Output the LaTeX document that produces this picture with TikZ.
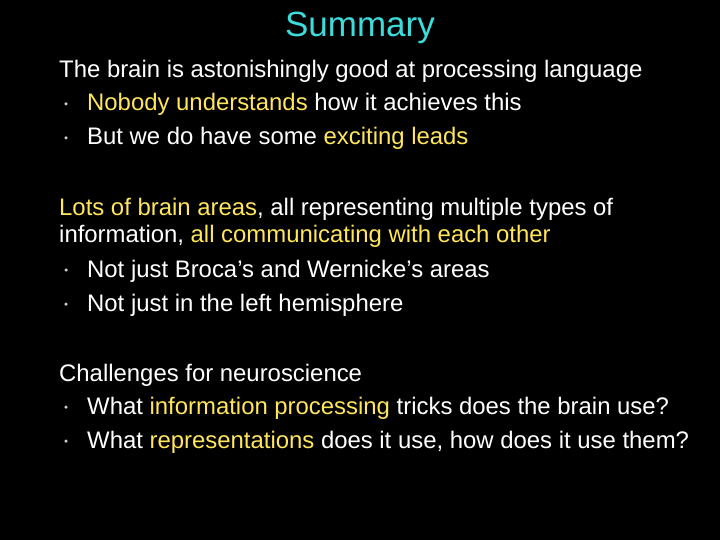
\documentclass[tikz,border=0pt]{standalone}
\usepackage{fontspec}
\setmainfont{Liberation Sans}
\usepackage{xcolor}
\definecolor{hilite}{RGB}{255,230,90}
\definecolor{titlecol}{RGB}{60,220,220}

\begin{document}
\begin{tikzpicture}[x=1pt, y=-1pt,
    txt/.style={anchor=base west, inner sep=0pt, text=white, font=\fontsize{23.9}{28}\selectfont},
    dot/.style={circle, fill=white!80!black, inner sep=0pt, minimum size=3.5pt}
]
    \fill[black] (0,0) rectangle (720,540);
    \useasboundingbox (0,0) rectangle (720,540);

    \node[anchor=base, inner sep=0pt, text=titlecol, font=\fontsize{35}{40}\selectfont] (title) at (360,37) {Summary};

    % first block
    \node[txt] (a1) at (59,78) {The brain is astonishingly good at processing language};
    \node[dot] (b1) at (66,104) {};
    \node[txt] (a2) at (87,111) {\textcolor{hilite}{Nobody understands} how it achieves this};
    \node[dot] (b2) at (66,138) {};
    \node[txt] (a3) at (87,145) {But we do have some \textcolor{hilite}{exciting leads}};

    % second block
    \node[txt] (c1) at (59,215) {\textcolor{hilite}{Lots of brain areas}, all representing multiple types of};
    \node[txt] (c2) at (59,243) {information, \textcolor{hilite}{all communicating with each other}};
    \node[dot] (d1) at (66,270) {};
    \node[txt] (c3) at (87,277) {Not just Broca’s and Wernicke’s areas};
    \node[dot] (d2) at (66,304) {};
    \node[txt] (c4) at (87,311) {Not just in the left hemisphere};

    % third block
    \node[txt] (e1) at (59,381) {Challenges for neuroscience};
    \node[dot] (f1) at (66,407) {};
    \node[txt] (e2) at (87,414) {What \textcolor{hilite}{information processing} tricks does the brain use?};
    \node[dot] (f2) at (66,441) {};
    \node[txt] (e3) at (87,448) {What \textcolor{hilite}{representations} does it use, how does it use them?};
\end{tikzpicture}
\end{document}
